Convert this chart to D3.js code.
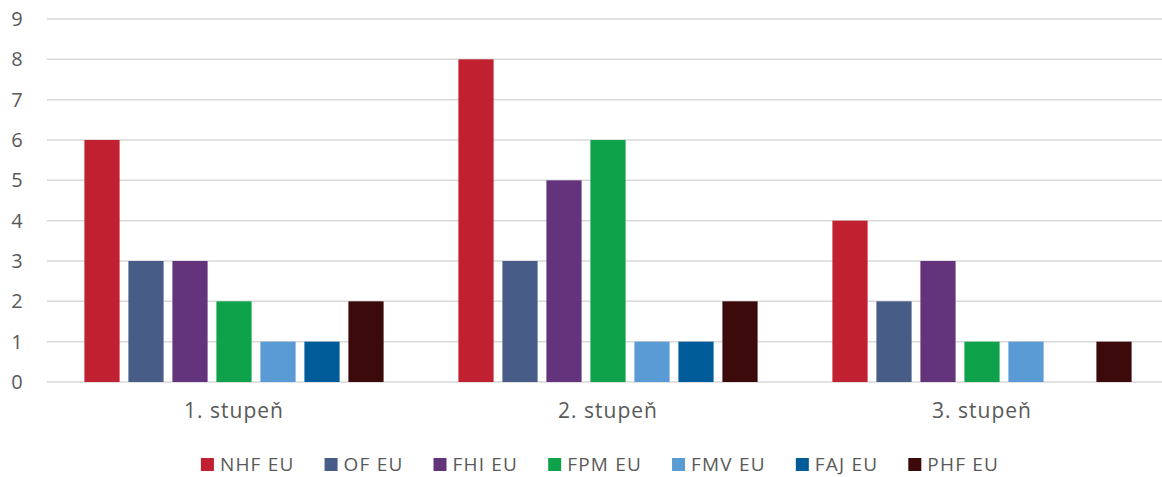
<!DOCTYPE html>
<meta charset="utf-8">
<head>
  <title>Stupeň</title>
  <script src="https://cdn.jsdelivr.net/npm/d3@7"></script>
  <style>
    body { margin: 0; background: #fff; }
    text { font-family: "Open Sans", "Noto Sans", sans-serif; fill: #595959; }
    .grid line { stroke: #d9d9d9; stroke-width: 1.5; }
  </style>
</head>
<body>
<div id="chart"></div>
<script>
  // data
  var categories = ["1. stupeň", "2. stupeň", "3. stupeň"];
  var seriesNames = ["NHF EU", "OF EU", "FHI EU", "FPM EU", "FMV EU", "FAJ EU", "PHF EU"];
  var seriesColors = ["#c0202f", "#475c87", "#63337c", "#0ea24a", "#5b9bd5", "#005c99", "#3c0a0a"];
  var values = [
    [6, 3, 3, 2, 1, 1, 2],   // 1. stupeň
    [8, 3, 5, 6, 1, 1, 2],   // 2. stupeň
    [4, 2, 3, 1, 1, 0, 1]    // 3. stupeň
  ];
  var yTicks = [0, 1, 2, 3, 4, 5, 6, 7, 8, 9];

  var w = 1162, h = 477;
  var plotL = 47, plotR = 1162, plotT = 19, plotB = 382;

  var svg = d3.select("#chart").append("svg")
      .attr("width", w).attr("height", h);

  // the last category band runs a bit past the right edge, as in the original
  var x0 = d3.scaleBand().domain(categories).range([plotL, plotL + 1122]).padding(0);
  var x1 = d3.scaleBand().domain(seriesNames).range([0, x0.bandwidth()])
      .paddingInner(0.2).paddingOuter(0.85);
  var y = d3.scaleLinear().domain([0, 9]).range([plotB, plotT]);

  // gridlines
  svg.append("g").attr("class", "grid")
    .selectAll("line").data(yTicks).enter().append("line")
      .attr("x1", plotL).attr("x2", plotR)
      .attr("y1", d => y(d)).attr("y2", d => y(d));

  // y labels
  svg.append("g").selectAll("text").data(yTicks).enter().append("text")
      .attr("x", 17).attr("y", d => y(d))
      .attr("dy", "0.35em")
      .attr("text-anchor", "middle")
      .attr("font-size", 20)
      .text(d => d);

  // bars
  var groups = svg.append("g").selectAll("g").data(categories).enter().append("g")
      .attr("transform", d => "translate(" + x0(d) + ",0)");

  groups.selectAll("rect")
    .data((c, i) => seriesNames.map((s, j) => ({ s: s, v: values[i][j], c: seriesColors[j] })).filter(d => d.v > 0))
    .enter().append("rect")
      .attr("x", d => x1(d.s))
      .attr("width", x1.bandwidth())
      .attr("y", d => y(d.v))
      .attr("height", d => y(0) - y(d.v))
      .attr("fill", d => d.c);

  // category labels
  svg.append("g").selectAll("text").data(categories).enter().append("text")
      .attr("x", d => x0(d) + x0.bandwidth() / 2)
      .attr("y", 411)
      .attr("dy", "0.35em")
      .attr("text-anchor", "middle")
      .attr("font-size", 21)
      .attr("letter-spacing", 1)
      .text(d => d);

  // legend
  var legend = svg.append("g");
  var items = legend.selectAll("g").data(seriesNames).enter().append("g");
  items.append("rect").attr("width", 13).attr("height", 13).attr("y", 458)
      .attr("fill", (d, i) => seriesColors[i]);
  items.append("text").attr("x", 19).attr("y", 471)
      .attr("font-size", 19).attr("letter-spacing", 1.2).text(d => d);

  var gap = 30, xpos = 0, offs = [];
  items.each(function () {
    offs.push(xpos);
    xpos += 19 + this.querySelector("text").getComputedTextLength() + gap;
  });
  var total = xpos - gap;
  var startX = 600 - total / 2;
  items.attr("transform", (d, i) => "translate(" + (startX + offs[i]) + ",0)");
</script>
</body>
